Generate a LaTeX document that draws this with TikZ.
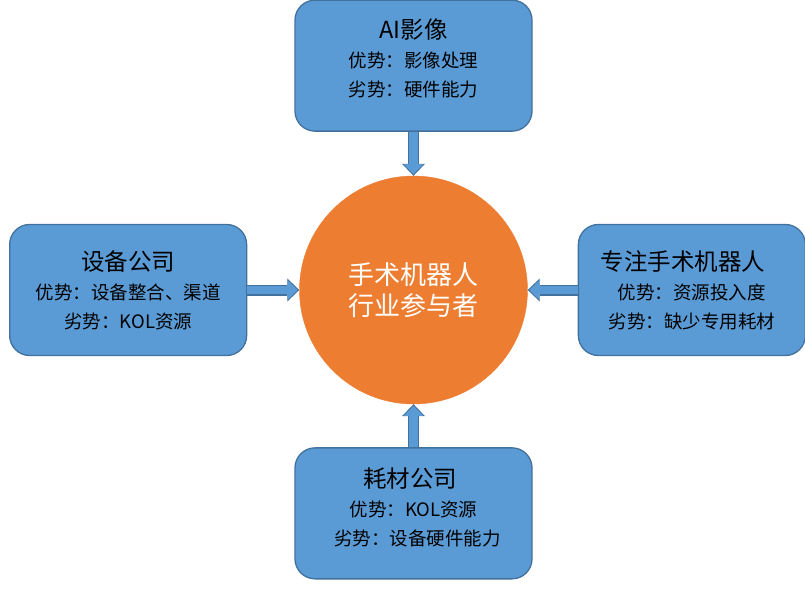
\documentclass[tikz,border=0pt]{standalone}
\usepackage{fontspec}
\setmainfont{Noto Sans CJK SC}
\usetikzlibrary{positioning, arrows.meta}

\definecolor{boxfill}{HTML}{5B9BD5}
\definecolor{boxline}{HTML}{41719C}
\definecolor{corefill}{HTML}{ED7D31}
\newcommand{\partytitle}[1]{{\fontsize{23.5}{29}\selectfont #1}}

\begin{document}
\begin{tikzpicture}[
    x=1pt, y=-1pt,
    every node/.style={align=center, font=\fontsize{18.5}{29}\selectfont},
    party/.style={draw=boxline, fill=boxfill, line width=1.3pt, rounded corners=20pt, minimum width=237pt, minimum height=131pt, inner sep=0pt},
    core/.style={circle, fill=corefill, draw=corefill, minimum size=228pt, inner sep=0pt, text=white, font=\fontsize{26}{31}\selectfont},
    flow/.style={draw=boxline, line width=11pt, -{Triangle[length=12pt, width=23pt, line width=0pt]},
        postaction={draw=boxfill, line width=8.5pt, shorten >=1.6pt, -{Triangle[length=10pt, width=19.5pt, line width=0pt]}}}
]
\useasboundingbox (0,0) rectangle (805,612);

\node[core] (core) at (413.5,290) {手术机器人\\行业参与者};

\node[party, above=44pt of core, text depth=16pt] (ai) {\partytitle{AI影像}\\优势：影像处理\\劣势：硬件能力};
\node[party, left=52pt of core] (device) {\partytitle{设备公司}\\优势：设备整合、渠道\\劣势：KOL资源};
\node[party, right=50pt of core, minimum width=227pt] (special) {\partytitle{专注手术机器人}\hspace*{18pt}\\优势：资源投入度\hspace*{20pt}\\劣势：缺少专用耗材};
\node[party, below=43pt of core, text depth=13pt] (supply) {\partytitle{耗材公司}\hspace*{7pt}\\优势：KOL资源\hspace*{7pt}\\\hspace*{8pt}劣势：设备硬件能力};

% arrows into the centre
\draw[flow] (ai) -- (core);
\draw[flow] (device) -- (core);
\draw[flow] (special) -- (core);
\draw[flow] (supply) -- (core);
\end{tikzpicture}
\end{document}
